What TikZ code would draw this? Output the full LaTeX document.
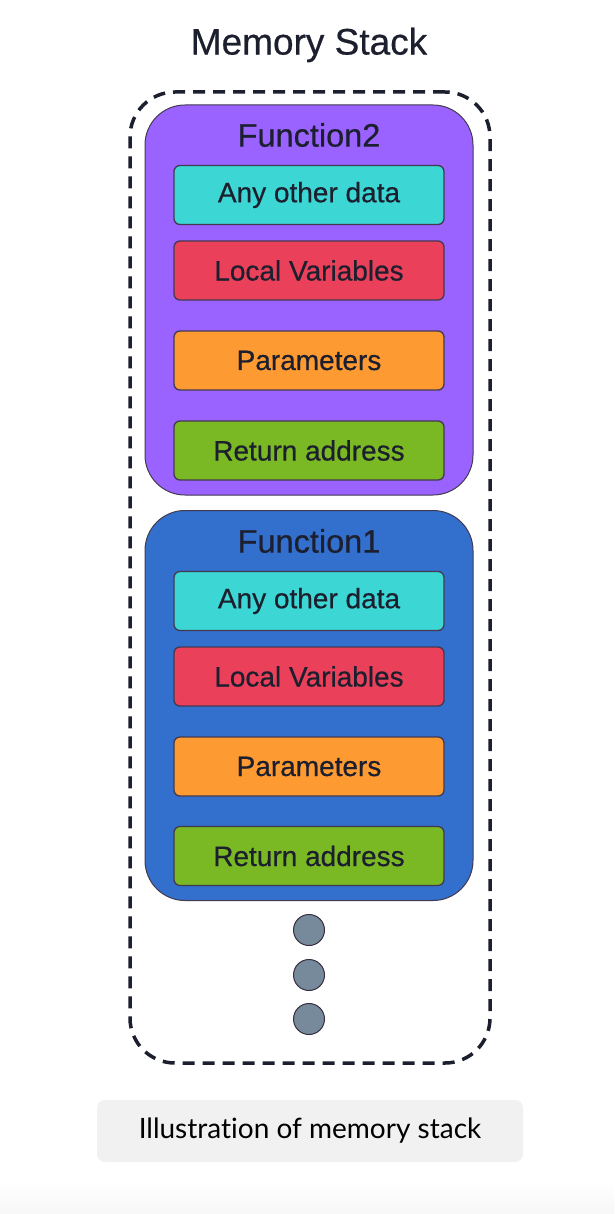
\documentclass[tikz,border=0pt]{standalone}
\usepackage{fontspec}
\setmainfont{Liberation Sans}
\newfontfamily\medfont[FakeBold=0.5]{Liberation Sans}
\newfontfamily\capfont[Ligatures={NoCommon,NoRare,NoDiscretionary}]{Lato}
\definecolor{txt}{HTML}{1C1F2E}
\definecolor{bordc}{HTML}{433A50}
\definecolor{purp}{HTML}{9A62FE}
\definecolor{blu}{HTML}{336FCC}
\definecolor{cyanb}{HTML}{3CD6D4}
\definecolor{redb}{HTML}{EA405A}
\definecolor{orab}{HTML}{FE9A32}
\definecolor{grnb}{HTML}{7AB824}
\definecolor{dotc}{HTML}{778A9B}
\definecolor{capbg}{HTML}{F1F1F1}
\tikzset{
  frame/.style={draw=bordc, line width=1pt, rounded corners=40pt, minimum width=328pt, minimum height=390pt, inner sep=0pt},
  item/.style={draw=bordc, line width=1.3pt, rounded corners=6pt, minimum width=270pt, minimum height=59pt, inner sep=0pt, text=txt, font=\medfont\fontsize{28}{32}\selectfont},
  ftitle/.style={text=txt, font=\medfont\fontsize{32.5}{36}\selectfont, inner sep=0pt},
  dotn/.style={circle, draw=bordc!80!black, line width=1pt, fill=dotc, minimum size=31pt, inner sep=0pt},
}
\begin{document}
\begin{tikzpicture}[x=1pt,y=-1pt]
\useasboundingbox (0,0) rectangle (614,1214);
\fill[white] (0,0) rectangle (614,1214);
\shade[top color=white, bottom color=black!3] (0,1180) rectangle (614,1214);
\node[text=txt, font=\medfont\fontsize{37}{42}\selectfont, inner sep=0pt] (title) at (309,45) {Memory Stack};
\node[draw=txt, line width=3.5pt, dash pattern=on 12pt off 8pt, rounded corners=45pt, minimum width=360pt, minimum height=971pt, inner sep=0pt] (outer) at (310,577.5) {};
% Function2
\node[frame, fill=purp] (f2) at (309,300) {};
\node[ftitle] (f2t) at (309,135) {Function2};
\node[item, fill=cyanb] (f2a) at (309,195) {Any other data};
\node[item, fill=redb] (f2b) at (309,270.5) {Local Variables};
\node[item, fill=orab] (f2c) at (309,360.5) {Parameters};
\node[item, fill=grnb] (f2d) at (309,450.5) {Return address};
% Function1
\node[frame, fill=blu] (f1) at (309,705.5) {};
\node[ftitle] (f1t) at (309,541) {Function1};
\node[item, fill=cyanb] (f1a) at (309,601) {Any other data};
\node[item, fill=redb] (f1b) at (309,676.5) {Local Variables};
\node[item, fill=orab] (f1c) at (309,766.5) {Parameters};
\node[item, fill=grnb] (f1d) at (309,856) {Return address};
% dots
\node[dotn] (d1) at (309,930) {};
\node[dotn] (d2) at (309,975) {};
\node[dotn] (d3) at (309,1019) {};
% caption
\node[fill=capbg, rounded corners=8pt, minimum width=426pt, minimum height=62pt, inner sep=0pt, text=black, font=\capfont\fontsize{28}{32}\selectfont] (cap) at (310,1131) {Illustration of memory stack};
\end{tikzpicture}
\end{document}
